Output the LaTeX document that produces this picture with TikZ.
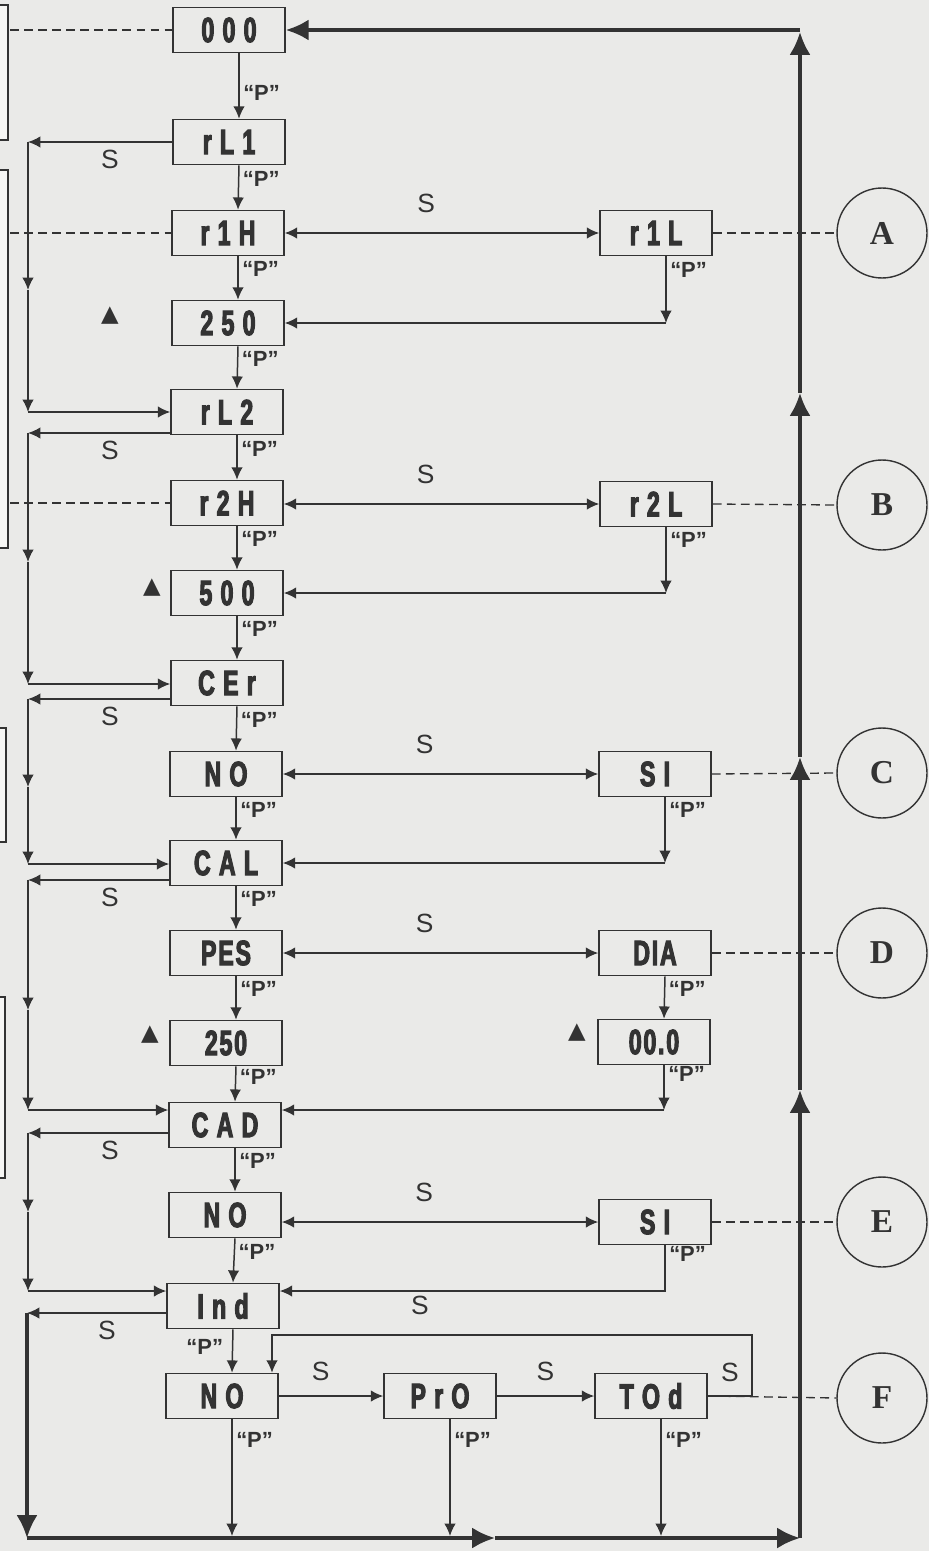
\documentclass[tikz,border=0pt]{standalone}
\usepackage{fontspec}
\setmainfont{Liberation Sans}
\newfontfamily\lcdfont[FakeStretch=0.66,LetterSpace=5,BoldFeatures={FakeBold=3}]{Liberation Sans}
\newfontfamily\romfont{Liberation Serif}
\newfontfamily\symfont{DejaVu Sans}
\usepackage{xcolor}
\usepackage{tikz}
\usetikzlibrary{arrows.meta,calc}
\definecolor{paper}{HTML}{EAEAE8}
\definecolor{ink}  {HTML}{333333}
\definecolor{sheet}{HTML}{F6F6F4}

\begin{document}
\begin{tikzpicture}[x=0.02cm,y=-0.02cm,
  disp/.style={draw=ink,fill=paper,line width=0.9pt,minimum width=2.24cm,
               minimum height=0.9cm,inner sep=0pt,text=ink,
               font=\lcdfont\bfseries\fontsize{20}{20}\selectfont},
  key/.style={circle,draw=ink,line width=0.8pt,minimum size=1.8cm,inner sep=0pt,
              text=ink,font=\romfont\bfseries\fontsize{19}{19}\selectfont},
  ln/.style={draw=ink,line width=0.85pt},
  ar/.style={ln,-{Latex[length=7pt,width=6.5pt]}},
  dbl/.style={ln,{Latex[length=7pt,width=6.5pt]}-{Latex[length=7pt,width=6.5pt]}},
  thk/.style={draw=ink,line width=2pt,-{Latex[length=13pt,width=12pt]}},
  dsh/.style={draw=ink,line width=0.75pt,dash pattern=on 5pt off 3pt},
  sl/.style={text=ink,inner sep=0pt,font=\fontsize{15}{15}\selectfont},
  pl/.style={text=ink,inner sep=2pt,font=\bfseries\fontsize{12.5}{12.5}\selectfont},
  up/.style={text=ink,inner sep=0pt,font=\symfont\fontsize{13}{13}\selectfont}]
  \useasboundingbox (0,0) rectangle (929,1551);
  \fill[paper] (0,0) rectangle (929,1551);

  % edges of the neighbouring boxes on the page
  \foreach \x/\ya/\yb in {8/5/140,8/170/548,6/728/842,5/997/1178}
    \filldraw[fill=sheet,draw=ink,line width=0.6pt] (-5,\ya) rectangle (\x,\yb);

  % main column
  \foreach \n/\t/\x/\y in {z/{0 0 0}/229/30,rla/{r L 1}/229/142,rha/{r 1 H}/228/233,
      va/{2 5 0}/228/323,rlb/{r L 2}/227/412,rhb/{r 2 H}/227/503,vb/{5 0 0}/227/593,
      cer/{C E r}/227/683,noa/{N O}/226/774,cal/{C A L}/226/863,pes/{PES}/226/953,
      vc/{250}/226/1043,cad/{C A D}/225/1125,nob/{N O}/225/1215,ind/{I n d}/223/1306,
      noc/{N O}/222/1396}
    \node[disp] (\n) at (\x,\y) {\t};

  % side column
  \foreach \n/\t/\x/\y in {r1l/{r 1 L}/656/233,r2l/{r 2 L}/656/504,sia/{S I}/655/774,
      dia/{DIA}/655/953,vd/{00.0}/654/1042,sib/{S I}/655/1222,pro/{P r O}/440/1396,
      tod/{T O d}/651/1396}
    \node[disp] (\n) at (\x,\y) {\t};

  \foreach \k/\y in {A/233,B/505,C/773,D/953,E/1222,F/1398}
    \node[key] (k\k) at (882,\y) {\k};

  % dashed leaders
  \foreach \b/\k in {r1l/A,r2l/B,sia/C,dia/D,sib/E,tod/F}
    \draw[dsh] (\b.east) -- (k\k.west);
  \foreach \b in {z,rha,rhb}
    \draw[dsh] (\b.west -| 10,0) -- (\b.west);

  % "P" steps down the main column
  \foreach \a/\b/\p in {z/rla/.6,rla/rha/.3,rha/va/.3,va/rlb/.3,rlb/rhb/.3,rhb/vb/.3,
      vb/cer/.3,cer/noa/.3,noa/cal/.3,cal/pes/.3,pes/vc/.3,vc/cad/.3,cad/nob/.3,nob/ind/.3}
    \draw[ar] ([xshift=2mm]\a.south) -- ([xshift=2mm]\b.north)
      node[pl,pos=\p,anchor=west] {“P”};

  % "S" returns on the left
  \foreach \a/\b/\d/\m/\r in {rla/rlb/142/290/412,rlb/cer/433/562/684,cer/cal/699/787/864,
      cal/cad/880/1010/1110,cad/ind/1133/1212/1291}{
    \draw[ar] (\a.west |- 0,\d) -- (28,\d);
    \draw[ar] (28,\d) -- (28,\m);
    \draw[ar] (28,\m) -- (28,\r);
    \draw[ar] (28,\r) -- (\b.west |- 0,\r);
    \node[sl] at (110,{\d+17}) {S};}

  % "S" to the side column
  \foreach \a/\b in {rha/r1l,rhb/r2l,noa/sia,pes/dia,nob/sib}
    \draw[dbl] (\a.east |- \b.west) -- (\b.west) node[sl,pos=.45,yshift=17pt] {S};

  % side column back to the main column
  \foreach \b/\t/\y in {r1l/va/323,r2l/vb/593,sia/cal/863,vd/cad/1110}{
    \coordinate (c\b) at ([xshift=2mm]\b.south |- 0,\y);
    \draw[ar] ([xshift=2mm]\b.south) -- (c\b) node[pl,pos=.2,anchor=west] {“P”};
    \draw[ar] (c\b) -- (\t.east |- c\b);}
  \draw[ar] ([xshift=2mm]dia.south) -- ([xshift=2mm]vd.north)
    node[pl,pos=.3,anchor=west] {“P”};
  \draw[ar] ([xshift=2mm]sib.south) |- (ind.east |- 0,1291)
    node[pl,pos=.1,anchor=west] {“P”};
  \node[sl] at (420,1305) {S};

  \node[up] (t1) at (110,316) {▲};
  \node[up] (t2) at (152,588) {▲};
  \node[up] (t3) at (150,1035) {▲};
  \node[up] (t4) at (577,1033) {▲};

  % last row
  \draw[ar] ([xshift=2mm]ind.south) -- ([xshift=2mm]noc.north)
    node[pl,pos=.4,anchor=east,xshift=-3pt] {“P”};
  \draw[ar] (noc.east) -- (pro.west) node[sl,pos=.4,yshift=14pt] {S};
  \draw[ar] (pro.east) -- (tod.west) node[sl,pos=.5,yshift=14pt] {S};
  \coordinate (lp) at (272,1335);
  \draw[ar] (tod.east) -- (752,1396) -- (752,1335) -- (lp) -- (lp |- noc.north);
  \node[sl] at (730,1372) {S};

  % outer loop
  \coordinate (bl) at (27,1538);
  \coordinate (br) at (800,1538);
  \coordinate (tr) at (800,30);
  \foreach \n in {noc,pro,tod}
    \draw[ar] ([xshift=2mm]\n.south) -- ([xshift=2mm]\n.south |- 0,1536)
      node[pl,pos=.18,anchor=west] {“P”};
  \draw[ar] (ind.west |- 0,1313) -- (27,1313);
  \node[sl] at (107,1330) {S};
  \draw[thk] (27,1313) -- (bl);
  \draw[thk] (bl) -- (495,1538);
  \draw[thk] (495,1538) -- (br);
  \foreach \ya/\yb in {1538/1090,1090/757,757/393,393/32}
    \draw[thk] (800,\ya) -- (800,\yb);
  \draw[thk] (tr) -- (z.east);
\end{tikzpicture}
\end{document}
